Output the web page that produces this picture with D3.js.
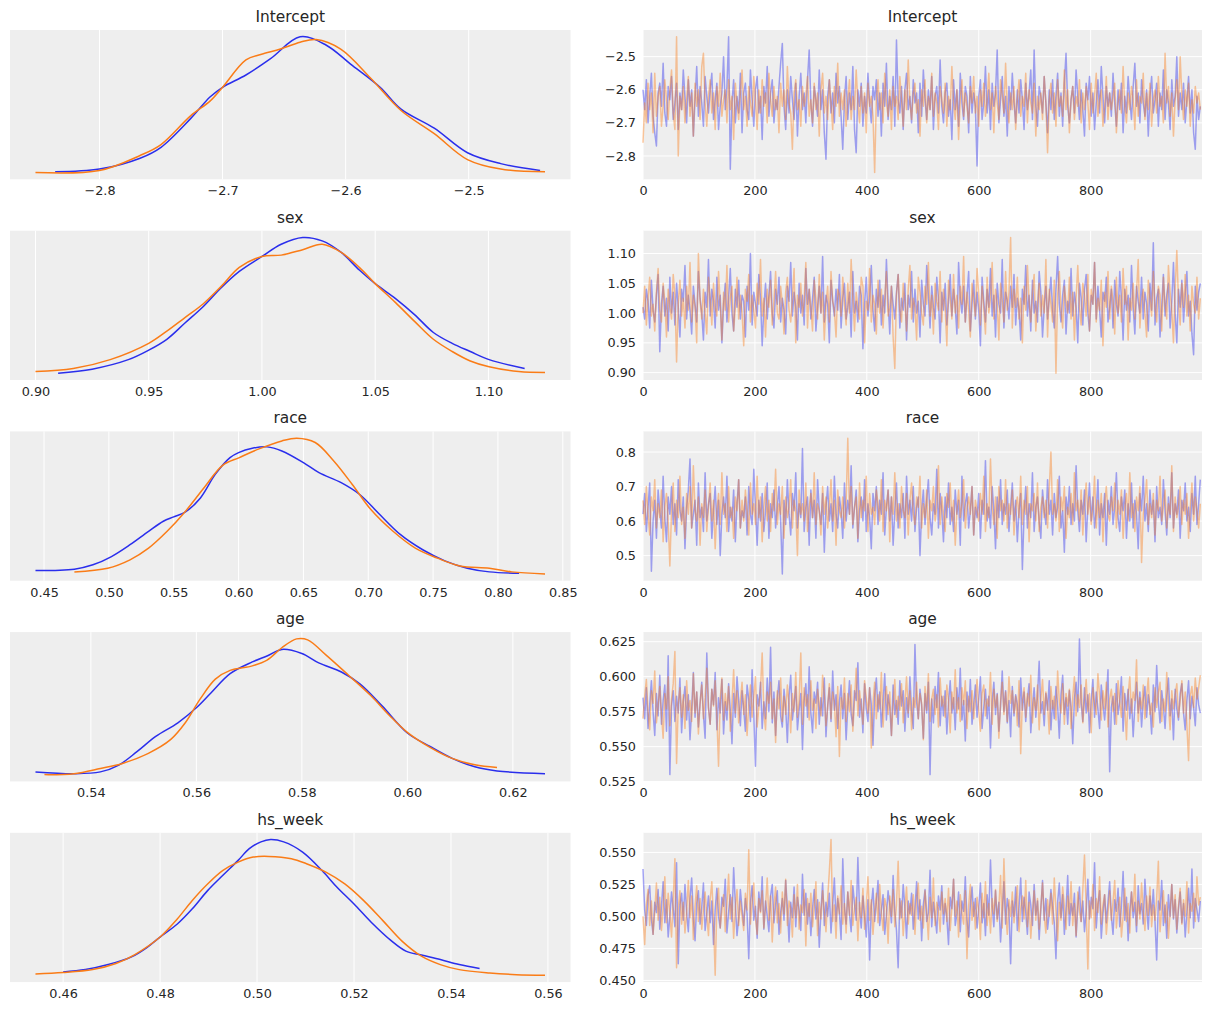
<!DOCTYPE html>
<html><head><meta charset="utf-8">
<script src="https://cdn.jsdelivr.net/npm/d3@7"></script>
<style>body{margin:0;background:#fff}svg{display:block}text{font-family:"DejaVu Sans",sans-serif;fill:#262626}</style>
</head><body>
<script>
// ---------- data ----------
const params = ["Intercept", "sex", "race", "age", "hs_week"];
const chainColors = ["#2a2eec", "#fa7c17"];

// KDE curves: [value, relative density]
const kdeInterceptA = [[-2.836,0.01],[-2.800,0.03],[-2.767,0.11],[-2.750,0.19],[-2.726,0.40],[-2.710,0.56],[-2.700,0.63],[-2.681,0.72],[-2.661,0.84],[-2.637,1.00],[-2.616,0.94],[-2.596,0.80],[-2.572,0.63],[-2.555,0.47],[-2.528,0.33],[-2.501,0.15],[-2.474,0.07],[-2.442,0.02]];
const kdeInterceptB = [[-2.852,0.005],[-2.800,0.02],[-2.767,0.13],[-2.750,0.21],[-2.726,0.42],[-2.710,0.53],[-2.700,0.63],[-2.681,0.83],[-2.669,0.87],[-2.653,0.91],[-2.637,0.96],[-2.624,0.98],[-2.604,0.91],[-2.580,0.70],[-2.555,0.46],[-2.528,0.29],[-2.501,0.10],[-2.474,0.03],[-2.438,0.01]];
const kdeSexA = [[0.910,0.0],[0.925,0.03],[0.941,0.10],[0.950,0.17],[0.958,0.25],[0.966,0.37],[0.974,0.49],[0.982,0.63],[0.990,0.75],[1.000,0.86],[1.0085,0.95],[1.018,1.0],[1.0266,0.975],[1.035,0.89],[1.043,0.76],[1.050,0.66],[1.059,0.55],[1.0675,0.43],[1.0757,0.30],[1.084,0.22],[1.092,0.16],[1.1003,0.10],[1.116,0.035]];
const kdeSexB = [[0.900,0.012],[0.9167,0.035],[0.933,0.10],[0.950,0.22],[0.958,0.31],[0.966,0.41],[0.974,0.51],[0.982,0.64],[0.990,0.78],[1.000,0.86],[1.0085,0.87],[1.018,0.91],[1.0266,0.95],[1.035,0.89],[1.043,0.78],[1.050,0.66],[1.059,0.52],[1.0675,0.38],[1.0757,0.25],[1.084,0.16],[1.092,0.09],[1.1003,0.047],[1.1134,0.012],[1.125,0.005]];
const kdeRaceA = [[0.4434,0.025],[0.4734,0.035],[0.4877,0.067],[0.502,0.128],[0.5163,0.215],[0.5306,0.314],[0.542,0.388],[0.55,0.42],[0.5591,0.457],[0.5706,0.56],[0.582,0.733],[0.5934,0.857],[0.60,0.894],[0.6106,0.926],[0.622,0.936],[0.6334,0.906],[0.65,0.82],[0.662,0.746],[0.6791,0.672],[0.6934,0.585],[0.7077,0.449],[0.7249,0.289],[0.742,0.178],[0.7591,0.096],[0.7763,0.042],[0.7934,0.015],[0.8163,0.005]];
const kdeRaceB = [[0.4734,0.015],[0.4991,0.042],[0.5163,0.104],[0.5306,0.19],[0.5449,0.314],[0.5591,0.462],[0.5734,0.635],[0.5877,0.80],[0.6006,0.857],[0.6163,0.923],[0.6334,0.98],[0.6449,1.0],[0.6591,0.968],[0.6734,0.832],[0.6877,0.659],[0.702,0.474],[0.7191,0.314],[0.7363,0.19],[0.7534,0.116],[0.7706,0.059],[0.7934,0.042],[0.8106,0.015],[0.8363,0.0]];
const kdeAgeA = [[0.5295,0.02],[0.5368,0.007],[0.5418,0.02],[0.5453,0.07],[0.5488,0.17],[0.5523,0.28],[0.5565,0.38],[0.56,0.49],[0.5628,0.60],[0.5664,0.74],[0.5706,0.826],[0.5734,0.87],[0.5762,0.918],[0.58,0.888],[0.5832,0.819],[0.5875,0.752],[0.591,0.665],[0.5952,0.504],[0.60,0.305],[0.6043,0.206],[0.6085,0.119],[0.6128,0.057],[0.617,0.027],[0.6261,0.007]];
const kdeAgeB = [[0.5312,0.0],[0.5368,0.007],[0.5418,0.045],[0.546,0.082],[0.5509,0.156],[0.5551,0.256],[0.5579,0.38],[0.5607,0.553],[0.5636,0.70],[0.5664,0.764],[0.5706,0.797],[0.5734,0.839],[0.5762,0.93],[0.579,0.995],[0.5811,0.988],[0.5846,0.876],[0.5889,0.727],[0.5931,0.578],[0.5966,0.434],[0.60,0.31],[0.6043,0.20],[0.6085,0.119],[0.6128,0.072],[0.617,0.052]];
const kdeHsWeekA = [[0.46,0.025],[0.4646,0.042],[0.4693,0.079],[0.474,0.134],[0.4772,0.203],[0.48,0.282],[0.4835,0.376],[0.4866,0.488],[0.4898,0.624],[0.4929,0.735],[0.4961,0.847],[0.4984,0.933],[0.5008,0.983],[0.5028,1.0],[0.5055,0.983],[0.5094,0.908],[0.5134,0.772],[0.5165,0.649],[0.52,0.525],[0.5236,0.389],[0.5276,0.257],[0.5307,0.178],[0.5339,0.149],[0.5378,0.116],[0.5417,0.079],[0.5459,0.05]];
const kdeHsWeekB = [[0.4543,0.01],[0.46,0.02],[0.4661,0.042],[0.4709,0.087],[0.4748,0.153],[0.48,0.282],[0.4835,0.413],[0.4866,0.55],[0.4898,0.673],[0.4929,0.772],[0.4961,0.834],[0.4992,0.871],[0.5024,0.876],[0.5071,0.859],[0.5102,0.822],[0.5142,0.76],[0.5181,0.673],[0.522,0.55],[0.526,0.401],[0.5299,0.252],[0.5339,0.141],[0.5378,0.079],[0.5417,0.042],[0.548,0.017],[0.5535,0.005],[0.5594,0.0]];

// Trace values (every 3rd draw, draws 0..996)
const traceInterceptA = [-2.60,-2.66,-2.57,-2.70,-2.62,-2.55,-2.68,-2.73,-2.77,-2.61,-2.58,-2.65,-2.52,-2.67,-2.71,-2.59,-2.63,-2.56,-2.69,-2.64,
-2.58,-2.72,-2.61,-2.66,-2.54,-2.62,-2.70,-2.57,-2.65,-2.60,-2.74,-2.63,-2.53,-2.68,-2.59,-2.64,-2.71,-2.56,-2.62,-2.67,
-2.60,-2.55,-2.69,-2.63,-2.58,-2.72,-2.65,-2.61,-2.50,-2.66,-2.59,-2.44,-2.84,-2.64,-2.57,-2.70,-2.62,-2.67,-2.55,-2.73,
-2.61,-2.58,-2.66,-2.69,-2.54,-2.63,-2.71,-2.60,-2.56,-2.67,-2.62,-2.75,-2.59,-2.64,-2.53,-2.68,-2.61,-2.57,-2.70,-2.63,
-2.66,-2.59,-2.52,-2.46,-2.65,-2.72,-2.60,-2.67,-2.56,-2.63,-2.69,-2.58,-2.74,-2.62,-2.55,-2.66,-2.61,-2.70,-2.57,-2.48,
-2.64,-2.71,-2.59,-2.63,-2.68,-2.54,-2.66,-2.60,-2.73,-2.81,-2.62,-2.57,-2.67,-2.61,-2.70,-2.55,-2.64,-2.59,-2.68,-2.78,
-2.63,-2.56,-2.69,-2.61,-2.66,-2.53,-2.72,-2.79,-2.60,-2.65,-2.58,-2.71,-2.62,-2.67,-2.55,-2.64,-2.70,-2.59,-2.63,-2.57,
-2.68,-2.61,-2.74,-2.58,-2.65,-2.52,-2.69,-2.62,-2.66,-2.56,-2.71,-2.45,-2.63,-2.67,-2.59,-2.72,-2.60,-2.55,-2.66,-2.62,
-2.70,-2.57,-2.64,-2.61,-2.73,-2.58,-2.68,-2.54,-2.63,-2.69,-2.60,-2.66,-2.56,-2.72,-2.62,-2.59,-2.67,-2.51,-2.65,-2.70,
-2.61,-2.58,-2.68,-2.63,-2.75,-2.57,-2.66,-2.60,-2.71,-2.55,-2.64,-2.69,-2.59,-2.62,-2.73,-2.56,-2.67,-2.61,-2.65,-2.83,
-2.62,-2.57,-2.69,-2.64,-2.53,-2.67,-2.60,-2.72,-2.58,-2.65,-2.61,-2.48,-2.70,-2.63,-2.56,-2.68,-2.62,-2.74,-2.59,-2.66,
-2.55,-2.64,-2.70,-2.60,-2.67,-2.57,-2.63,-2.72,-2.58,-2.66,-2.61,-2.54,-2.69,-2.48,-2.65,-2.71,-2.59,-2.62,-2.67,-2.56,
-2.64,-2.73,-2.60,-2.66,-2.57,-2.69,-2.62,-2.55,-2.68,-2.61,-2.71,-2.58,-2.49,-2.65,-2.70,-2.63,-2.59,-2.67,-2.54,-2.62,
-2.69,-2.60,-2.66,-2.74,-2.58,-2.63,-2.56,-2.68,-2.61,-2.72,-2.64,-2.57,-2.67,-2.53,-2.62,-2.70,-2.59,-2.65,-2.61,-2.68,
-2.55,-2.64,-2.71,-2.60,-2.66,-2.58,-2.73,-2.62,-2.67,-2.56,-2.63,-2.69,-2.59,-2.52,-2.65,-2.61,-2.70,-2.57,-2.64,-2.68,
-2.60,-2.74,-2.62,-2.56,-2.67,-2.63,-2.58,-2.71,-2.61,-2.66,-2.54,-2.69,-2.60,-2.64,-2.72,-2.57,-2.65,-2.62,-2.50,-2.68,
-2.61,-2.66,-2.58,-2.70,-2.63,-2.56,-2.67,-2.60,-2.73,-2.78,-2.62,-2.69,-2.65];
const traceInterceptB = [-2.76,-2.64,-2.70,-2.58,-2.66,-2.61,-2.73,-2.55,-2.68,-2.62,-2.59,-2.71,-2.65,-2.57,-2.63,-2.69,-2.60,-2.54,-2.67,-2.72,
-2.44,-2.80,-2.62,-2.66,-2.59,-2.70,-2.63,-2.56,-2.68,-2.61,-2.74,-2.58,-2.65,-2.60,-2.69,-2.53,-2.49,-2.64,-2.71,-2.62,
-2.57,-2.67,-2.61,-2.72,-2.59,-2.65,-2.55,-2.68,-2.63,-2.60,-2.70,-2.57,-2.66,-2.62,-2.75,-2.58,-2.64,-2.69,-2.61,-2.54,
-2.66,-2.62,-2.71,-2.59,-2.64,-2.68,-2.56,-2.63,-2.72,-2.60,-2.67,-2.57,-2.65,-2.61,-2.70,-2.55,-2.63,-2.68,-2.59,-2.66,
-2.62,-2.73,-2.58,-2.65,-2.60,-2.69,-2.53,-2.64,-2.67,-2.78,-2.61,-2.57,-2.66,-2.63,-2.71,-2.59,-2.65,-2.62,-2.56,-2.68,
-2.63,-2.70,-2.58,-2.66,-2.61,-2.74,-2.60,-2.55,-2.67,-2.62,-2.69,-2.57,-2.64,-2.72,-2.59,-2.65,-2.52,-2.68,-2.61,-2.66,
-2.60,-2.71,-2.63,-2.57,-2.69,-2.62,-2.66,-2.54,-2.64,-2.70,-2.59,-2.67,-2.61,-2.73,-2.58,-2.65,-2.62,-2.68,-2.85,-2.63,
-2.57,-2.66,-2.61,-2.70,-2.55,-2.64,-2.68,-2.60,-2.72,-2.59,-2.65,-2.62,-2.69,-2.56,-2.63,-2.71,-2.60,-2.66,-2.51,-2.64,
-2.69,-2.61,-2.58,-2.67,-2.63,-2.74,-2.60,-2.65,-2.57,-2.70,-2.62,-2.66,-2.55,-2.68,-2.61,-2.64,-2.72,-2.59,-2.63,-2.67,
-2.58,-2.71,-2.62,-2.66,-2.53,-2.64,-2.69,-2.60,-2.75,-2.63,-2.57,-2.68,-2.61,-2.65,-2.70,-2.59,-2.64,-2.56,-2.67,-2.62,
-2.71,-2.60,-2.65,-2.58,-2.68,-2.63,-2.55,-2.66,-2.61,-2.73,-2.59,-2.64,-2.69,-2.57,-2.62,-2.67,-2.52,-2.65,-2.70,-2.61,
-2.66,-2.59,-2.72,-2.63,-2.57,-2.68,-2.62,-2.65,-2.55,-2.70,-2.60,-2.64,-2.67,-2.58,-2.74,-2.62,-2.66,-2.61,-2.69,-2.56,
-2.64,-2.79,-2.63,-2.58,-2.67,-2.61,-2.71,-2.57,-2.65,-2.62,-2.68,-2.54,-2.66,-2.60,-2.73,-2.63,-2.59,-2.69,-2.62,-2.65,
-2.57,-2.70,-2.61,-2.66,-2.59,-2.64,-2.72,-2.58,-2.67,-2.62,-2.55,-2.68,-2.63,-2.60,-2.71,-2.65,-2.56,-2.69,-2.61,-2.66,
-2.62,-2.58,-2.73,-2.64,-2.60,-2.67,-2.53,-2.65,-2.70,-2.61,-2.66,-2.59,-2.63,-2.72,-2.57,-2.68,-2.62,-2.64,-2.55,-2.69,
-2.61,-2.66,-2.58,-2.71,-2.63,-2.60,-2.67,-2.56,-2.65,-2.62,-2.70,-2.49,-2.64,-2.59,-2.68,-2.61,-2.74,-2.63,-2.57,-2.66,
-2.50,-2.62,-2.69,-2.60,-2.65,-2.58,-2.71,-2.63,-2.67,-2.59,-2.64,-2.61,-2.66];
const traceSexA = [1.010,0.990,1.040,1.020,0.975,1.055,1.005,0.985,1.030,1.065,0.935,1.015,1.045,0.995,1.025,0.970,1.060,1.000,1.035,0.980,
1.050,1.010,0.960,1.040,1.020,1.080,0.990,1.030,1.005,0.965,1.045,1.015,0.985,1.070,1.025,1.000,0.955,1.035,1.010,1.090,
0.995,1.040,1.020,0.975,1.060,1.005,1.030,0.950,1.015,1.050,0.985,1.025,1.075,1.000,0.970,1.040,1.010,1.055,0.990,1.030,
1.020,0.960,1.045,1.005,1.100,0.980,1.035,1.015,0.995,1.065,1.025,0.945,1.010,1.050,0.990,1.030,1.070,1.000,0.975,1.040,
1.015,1.060,0.985,1.025,1.005,0.965,1.045,1.020,1.085,0.995,1.035,1.010,0.955,1.050,1.000,1.030,0.980,1.075,1.015,1.040,
0.990,1.025,1.060,0.970,1.010,1.045,1.000,1.095,0.985,1.030,1.015,0.950,1.055,1.020,0.995,1.040,1.005,1.065,0.975,1.025,
1.050,0.990,1.010,1.035,0.960,1.070,1.000,1.020,0.985,1.045,1.030,0.940,1.015,1.060,0.995,1.025,1.080,1.005,0.970,1.040,
1.010,1.055,0.980,1.030,1.000,1.090,1.020,0.965,1.045,1.015,0.990,1.035,1.065,0.975,1.025,1.005,1.050,0.955,1.030,1.010,
1.070,0.985,1.040,1.000,1.020,0.960,1.055,1.015,0.995,1.080,1.030,0.975,1.045,1.010,0.990,1.060,1.025,0.950,1.035,1.005,
1.050,0.980,1.020,1.065,0.995,1.040,1.010,0.965,1.085,1.025,1.000,1.045,0.985,1.030,1.070,0.970,1.015,1.055,0.990,1.035,
1.005,0.945,1.060,1.020,0.985,1.040,1.010,1.075,0.995,1.030,0.960,1.050,1.015,1.000,1.090,0.975,1.035,1.020,0.990,1.045,
1.010,1.065,0.980,1.025,1.005,0.955,1.040,1.015,1.080,0.995,1.030,0.970,1.055,1.000,1.020,0.985,1.070,1.035,0.960,1.010,
1.045,0.990,1.025,1.060,1.005,0.975,1.040,1.095,1.015,0.985,1.030,1.055,0.965,1.020,1.000,1.075,0.995,1.035,1.010,0.950,
1.050,1.025,0.980,1.040,1.065,1.000,0.970,1.030,1.015,1.085,0.990,1.045,1.005,0.960,1.035,1.020,1.060,0.985,1.010,1.040,
0.975,1.055,1.015,0.995,1.070,1.025,0.955,1.040,1.005,1.030,0.985,1.080,1.010,0.965,1.045,1.020,1.000,1.060,0.990,1.035,
1.015,0.970,1.050,1.005,1.118,0.980,1.025,1.040,0.960,1.010,1.065,0.995,1.030,1.050,0.975,1.020,1.085,1.000,0.950,1.040,
1.010,1.055,0.985,1.030,1.070,0.995,1.020,0.965,0.930,1.045,1.005,1.035,1.050];
const traceSexB = [1.000,1.045,0.980,1.025,1.060,0.995,1.015,0.970,1.035,1.075,1.005,0.985,1.050,1.020,0.960,1.040,1.010,0.990,1.065,1.030,
0.918,1.015,1.055,0.995,1.025,0.975,1.045,1.005,1.085,0.985,1.030,1.010,0.950,1.100,1.020,0.990,1.040,1.000,0.965,1.060,
1.025,0.980,1.050,1.010,0.995,1.070,1.015,0.955,1.035,1.005,1.080,0.985,1.025,1.045,0.970,1.010,1.060,0.990,1.030,1.000,
0.945,1.040,1.020,1.065,0.985,1.030,1.005,0.975,1.050,1.015,1.090,0.995,1.025,0.960,1.040,1.010,1.055,0.980,1.020,1.070,
1.000,0.990,1.045,1.015,0.965,1.035,1.060,1.005,0.985,1.025,1.075,0.950,1.030,1.010,1.050,0.995,1.020,1.085,0.975,1.040,
1.010,0.970,1.055,1.025,0.990,1.065,1.000,1.035,0.955,1.015,1.045,0.985,1.070,1.020,1.005,0.960,1.040,1.030,0.995,1.060,
1.015,0.980,1.050,1.000,1.090,1.025,0.970,1.035,1.010,0.990,1.060,1.045,0.950,1.020,1.005,1.075,0.985,1.030,1.015,0.965,
1.055,1.000,1.040,0.975,1.025,1.070,0.995,1.010,1.045,0.960,0.907,1.030,1.065,1.005,0.985,1.050,1.020,0.970,1.040,1.080,
0.990,1.025,1.010,0.955,1.060,1.035,1.000,0.980,1.045,1.015,1.085,0.995,1.030,0.965,1.050,1.020,1.005,1.070,0.985,1.040,
1.010,0.945,1.055,1.025,0.990,1.065,1.000,1.030,0.975,1.045,1.015,1.095,0.985,1.035,1.005,0.960,1.050,1.020,0.995,1.075,
1.030,0.980,1.045,1.010,0.965,1.060,1.000,1.025,1.085,0.990,1.040,1.015,0.955,1.050,1.020,0.985,1.070,1.005,1.035,1.127,
0.975,1.040,1.010,1.060,0.990,1.025,0.950,1.045,1.005,1.080,1.020,0.985,1.035,1.065,0.970,1.015,1.050,0.995,1.030,1.000,
1.090,0.960,1.040,1.015,0.985,1.055,0.899,1.030,1.070,1.005,0.975,1.045,1.020,1.000,1.060,0.990,1.035,0.955,1.025,1.080,
1.010,0.980,1.050,1.030,0.995,1.065,0.970,1.040,1.015,1.085,0.985,1.025,1.005,1.055,0.945,1.035,1.010,1.070,0.990,1.045,
1.020,0.965,1.060,1.000,1.030,0.985,1.075,1.015,1.045,0.955,1.025,1.005,1.050,0.990,1.035,1.090,0.975,1.020,1.040,1.000,
0.960,1.055,1.025,0.995,1.070,1.010,0.985,1.045,1.030,0.970,1.060,1.015,0.990,1.080,1.035,1.005,0.950,1.040,1.105,1.020,
0.980,1.050,1.010,1.065,0.995,1.030,0.970,1.045,1.015,1.000,1.060,0.990,1.025];
const traceRaceA = [0.62,0.68,0.57,0.64,0.71,0.455,0.60,0.66,0.55,0.69,0.63,0.58,0.73,0.61,0.54,0.67,0.62,0.70,0.59,0.65,
0.56,0.72,0.63,0.60,0.67,0.52,0.64,0.69,0.78,0.58,0.62,0.66,0.53,0.71,0.61,0.64,0.57,0.74,0.60,0.65,
0.68,0.55,0.63,0.70,0.59,0.66,0.50,0.62,0.67,0.61,0.73,0.57,0.64,0.60,0.69,0.54,0.65,0.72,0.58,0.63,
0.61,0.67,0.56,0.70,0.62,0.59,0.75,0.64,0.53,0.66,0.60,0.68,0.57,0.63,0.71,0.55,0.65,0.61,0.69,0.58,
0.64,0.70,0.60,0.447,0.66,0.59,0.72,0.62,0.56,0.68,0.63,0.74,0.58,0.65,0.61,0.81,0.57,0.64,0.67,0.53,
0.69,0.61,0.66,0.55,0.72,0.63,0.59,0.68,0.51,0.64,0.70,0.60,0.65,0.57,0.73,0.62,0.58,0.67,0.63,0.55,
0.71,0.60,0.66,0.62,0.76,0.58,0.64,0.69,0.54,0.63,0.67,0.60,0.72,0.57,0.65,0.61,0.52,0.68,0.63,0.70,
0.59,0.66,0.62,0.74,0.56,0.64,0.69,0.60,0.67,0.53,0.63,0.71,0.58,0.65,0.61,0.68,0.55,0.73,0.62,0.66,
0.60,0.70,0.57,0.64,0.67,0.50,0.63,0.69,0.59,0.66,0.72,0.61,0.56,0.65,0.62,0.75,0.58,0.68,0.63,0.54,
0.67,0.61,0.71,0.59,0.64,0.57,0.69,0.62,0.66,0.53,0.73,0.60,0.65,0.68,0.58,0.63,0.70,0.56,0.64,0.61,
0.68,0.55,0.66,0.62,0.775,0.60,0.64,0.58,0.70,0.63,0.52,0.67,0.61,0.72,0.59,0.65,0.62,0.69,0.57,0.64,
0.71,0.60,0.66,0.54,0.63,0.68,0.46,0.62,0.70,0.58,0.65,0.61,0.74,0.57,0.64,0.67,0.60,0.55,0.69,0.63,
0.59,0.72,0.62,0.66,0.56,0.68,0.61,0.64,0.73,0.58,0.63,0.51,0.67,0.62,0.70,0.59,0.65,0.60,0.76,0.63,
0.57,0.66,0.62,0.69,0.54,0.64,0.71,0.60,0.67,0.58,0.63,0.72,0.56,0.65,0.61,0.68,0.53,0.66,0.62,0.70,
0.59,0.64,0.74,0.61,0.57,0.67,0.63,0.69,0.55,0.65,0.60,0.71,0.58,0.66,0.62,0.52,0.68,0.63,0.73,0.60,
0.65,0.57,0.69,0.62,0.66,0.54,0.70,0.61,0.64,0.59,0.72,0.63,0.56,0.67,0.61,0.74,0.58,0.65,0.62,0.69,
0.55,0.66,0.63,0.71,0.60,0.64,0.57,0.68,0.62,0.73,0.59,0.65,0.72];
const traceRaceB = [0.66,0.59,0.70,0.62,0.56,0.67,0.63,0.72,0.58,0.65,0.61,0.69,0.54,0.64,0.68,0.60,0.47,0.63,0.71,0.57,
0.66,0.61,0.73,0.59,0.64,0.55,0.68,0.62,0.70,0.58,0.76,0.63,0.60,0.67,0.53,0.65,0.61,0.69,0.57,0.64,
0.71,0.60,0.66,0.52,0.63,0.68,0.59,0.74,0.62,0.65,0.57,0.70,0.61,0.64,0.55,0.67,0.63,0.72,0.58,0.66,
0.60,0.69,0.63,0.56,0.71,0.62,0.65,0.59,0.73,0.61,0.67,0.54,0.64,0.70,0.60,0.66,0.57,0.68,0.63,0.75,
0.59,0.65,0.62,0.70,0.55,0.67,0.61,0.64,0.72,0.58,0.66,0.63,0.50,0.69,0.62,0.65,0.60,0.71,0.57,0.64,
0.68,0.61,0.74,0.59,0.65,0.63,0.56,0.70,0.62,0.67,0.58,0.64,0.72,0.60,0.66,0.53,0.69,0.63,0.61,0.67,
0.58,0.65,0.84,0.62,0.70,0.59,0.64,0.67,0.55,0.71,0.61,0.66,0.63,0.73,0.57,0.68,0.62,0.64,0.59,0.69,
0.65,0.60,0.72,0.57,0.66,0.63,0.69,0.54,0.67,0.62,0.74,0.60,0.65,0.58,0.70,0.63,0.61,0.68,0.56,0.66,
0.71,0.62,0.59,0.67,0.64,0.73,0.58,0.65,0.61,0.69,0.55,0.66,0.63,0.70,0.60,0.64,0.76,0.59,0.67,0.62,
0.57,0.68,0.64,0.71,0.60,0.66,0.53,0.63,0.69,0.61,0.65,0.72,0.58,0.64,0.67,0.62,0.70,0.56,0.66,0.63,
0.60,0.68,0.62,0.73,0.57,0.65,0.61,0.78,0.64,0.59,0.67,0.55,0.70,0.63,0.66,0.60,0.72,0.58,0.65,0.62,
0.69,0.56,0.64,0.67,0.61,0.73,0.59,0.66,0.62,0.70,0.54,0.65,0.63,0.68,0.60,0.71,0.57,0.64,0.67,0.61,
0.66,0.58,0.69,0.80,0.62,0.65,0.60,0.72,0.57,0.67,0.63,0.70,0.55,0.64,0.61,0.68,0.59,0.74,0.63,0.66,
0.60,0.69,0.56,0.65,0.71,0.62,0.67,0.59,0.64,0.73,0.58,0.66,0.61,0.68,0.54,0.65,0.70,0.62,0.60,0.67,
0.63,0.71,0.58,0.66,0.62,0.69,0.55,0.64,0.68,0.60,0.74,0.61,0.65,0.57,0.67,0.63,0.70,0.48,0.62,0.66,
0.72,0.59,0.65,0.61,0.68,0.56,0.66,0.63,0.73,0.60,0.64,0.69,0.58,0.65,0.62,0.76,0.57,0.67,0.61,0.64,
0.70,0.59,0.66,0.62,0.68,0.55,0.64,0.71,0.60,0.67,0.63,0.58,0.65];
const traceAgeA = [0.585,0.570,0.592,0.563,0.580,0.597,0.575,0.558,0.588,0.572,0.601,0.566,0.583,0.594,0.561,0.615,0.530,0.579,0.590,0.568,
0.586,0.574,0.599,0.560,0.582,0.593,0.569,0.587,0.555,0.577,0.603,0.571,0.589,0.564,0.581,0.596,0.573,0.556,0.617,0.578,
0.566,0.591,0.580,0.603,0.562,0.585,0.574,0.598,0.559,0.582,0.569,0.595,0.576,0.552,0.588,0.571,0.600,0.583,0.565,0.590,
0.577,0.561,0.594,0.584,0.568,0.605,0.573,0.536,0.587,0.579,0.596,0.563,0.582,0.570,0.599,0.575,0.621,0.567,0.589,0.558,
0.584,0.597,0.572,0.564,0.591,0.578,0.553,0.586,0.601,0.569,0.580,0.593,0.562,0.576,0.588,0.548,0.583,0.595,0.571,0.607,
0.574,0.560,0.589,0.581,0.596,0.566,0.585,0.572,0.599,0.557,0.579,0.592,0.568,0.604,0.576,0.587,0.563,0.582,0.594,0.570,
0.588,0.555,0.578,0.597,0.573,0.565,0.590,0.583,0.610,0.571,0.584,0.560,0.595,0.577,0.568,0.592,0.580,0.551,0.586,0.599,
0.575,0.589,0.564,0.581,0.602,0.569,0.587,0.578,0.558,0.594,0.573,0.583,0.566,0.597,0.579,0.590,0.561,0.585,0.571,0.600,
0.576,0.563,0.623,0.582,0.570,0.591,0.579,0.556,0.588,0.574,0.596,0.530,0.584,0.567,0.593,0.578,0.603,0.565,0.586,0.572,
0.590,0.559,0.581,0.597,0.574,0.585,0.562,0.592,0.577,0.606,0.569,0.583,0.554,0.589,0.575,0.598,0.566,0.580,0.594,0.571,
0.584,0.600,0.563,0.578,0.591,0.570,0.586,0.549,0.582,0.596,0.573,0.588,0.561,0.579,0.604,0.575,0.590,0.567,0.583,0.557,
0.593,0.572,0.587,0.580,0.564,0.599,0.576,0.589,0.568,0.584,0.595,0.560,0.578,0.592,0.571,0.586,0.611,0.574,0.582,0.565,
0.588,0.576,0.597,0.562,0.583,0.570,0.593,0.579,0.556,0.587,0.601,0.573,0.585,0.566,0.590,0.578,0.552,0.584,0.596,0.575,
0.627,0.581,0.568,0.592,0.574,0.587,0.560,0.583,0.598,0.571,0.589,0.577,0.563,0.594,0.580,0.569,0.585,0.605,0.532,0.578,
0.586,0.566,0.595,0.573,0.582,0.600,0.561,0.588,0.576,0.591,0.570,0.584,0.557,0.579,0.596,0.574,0.589,0.564,0.583,0.593,
0.571,0.587,0.578,0.559,0.594,0.575,0.608,0.582,0.567,0.590,0.579,0.563,0.586,0.599,0.572,0.584,0.555,0.591,0.577,0.569,
0.588,0.595,0.574,0.562,0.583,0.597,0.570,0.586,0.578,0.565,0.592,0.580,0.574];
const traceAgeB = [0.570,0.586,0.598,0.575,0.562,0.590,0.581,0.604,0.567,0.579,0.593,0.573,0.556,0.588,0.577,0.600,0.565,0.584,0.595,0.618,
0.538,0.580,0.592,0.571,0.587,0.563,0.597,0.576,0.583,0.568,0.602,0.574,0.589,0.559,0.581,0.594,0.570,0.585,0.606,0.578,
0.566,0.591,0.579,0.597,0.572,0.536,0.584,0.599,0.569,0.588,0.576,0.593,0.561,0.582,0.605,0.574,0.590,0.567,0.583,0.596,
0.573,0.587,0.558,0.580,0.594,0.571,0.585,0.600,0.564,0.578,0.591,0.617,0.575,0.562,0.589,0.581,0.596,0.570,0.584,0.553,
0.590,0.577,0.599,0.568,0.586,0.573,0.594,0.581,0.560,0.588,0.575,0.603,0.571,0.583,0.617,0.566,0.592,0.579,0.587,0.569,
0.597,0.576,0.584,0.563,0.591,0.580,0.572,0.601,0.587,0.565,0.578,0.595,0.570,0.589,0.582,0.557,0.593,0.543,0.585,0.577,
0.599,0.568,0.588,0.575,0.594,0.561,0.583,0.606,0.572,0.590,0.579,0.566,0.597,0.585,0.574,0.592,0.549,0.581,0.596,0.570,
0.587,0.577,0.603,0.564,0.584,0.593,0.573,0.589,0.558,0.580,0.598,0.571,0.586,0.576,0.595,0.567,0.582,0.600,0.574,0.590,
0.562,0.585,0.578,0.596,0.570,0.588,0.581,0.555,0.593,0.576,0.602,0.568,0.584,0.591,0.573,0.587,0.564,0.599,0.579,0.586,
0.571,0.594,0.583,0.560,0.589,0.577,0.605,0.574,0.585,0.568,0.592,0.580,0.597,0.563,0.586,0.575,0.590,0.570,0.583,0.598,
0.576,0.561,0.588,0.594,0.572,0.584,0.579,0.603,0.566,0.591,0.578,0.587,0.556,0.582,0.596,0.573,0.589,0.568,0.600,0.581,
0.590,0.574,0.586,0.565,0.597,0.545,0.583,0.592,0.571,0.588,0.579,0.601,0.567,0.585,0.576,0.594,0.562,0.584,0.598,0.573,
0.589,0.580,0.559,0.593,0.577,0.586,0.569,0.604,0.582,0.574,0.595,0.566,0.588,0.579,0.591,0.563,0.585,0.600,0.572,0.587,
0.578,0.594,0.567,0.583,0.598,0.575,0.588,0.560,0.592,0.581,0.573,0.602,0.586,0.569,0.590,0.577,0.596,0.564,0.584,0.591,
0.575,0.588,0.566,0.597,0.582,0.571,0.593,0.579,0.555,0.587,0.600,0.574,0.589,0.583,0.612,0.568,0.585,0.577,0.594,0.570,
0.586,0.599,0.573,0.581,0.564,0.592,0.578,0.589,0.596,0.568,0.584,0.575,0.603,0.580,0.562,0.590,0.577,0.587,0.595,0.571,
0.583,0.597,0.574,0.589,0.565,0.540,0.586,0.593,0.578,0.599,0.584,0.592,0.601];
const traceHsWeekA = [0.537,0.505,0.493,0.516,0.524,0.498,0.486,0.511,0.503,0.521,0.490,0.508,0.527,0.495,0.513,0.484,0.500,0.519,0.506,0.492,
0.542,0.463,0.509,0.518,0.497,0.525,0.503,0.488,0.514,0.530,0.499,0.481,0.510,0.520,0.494,0.507,0.526,0.489,0.502,0.516,
0.495,0.512,0.478,0.505,0.522,0.500,0.491,0.515,0.508,0.529,0.487,0.503,0.517,0.496,0.538,0.510,0.485,0.499,0.521,0.506,
0.493,0.514,0.502,0.467,0.511,0.524,0.497,0.508,0.483,0.519,0.504,0.531,0.490,0.512,0.500,0.488,0.516,0.525,0.495,0.509,
0.520,0.486,0.503,0.514,0.497,0.528,0.507,0.480,0.511,0.499,0.523,0.492,0.515,0.505,0.489,0.533,0.501,0.518,0.494,0.510,
0.485,0.506,0.521,0.498,0.513,0.476,0.504,0.526,0.493,0.511,0.500,0.518,0.487,0.509,0.530,0.496,0.514,0.503,0.482,0.545,
0.507,0.494,0.519,0.502,0.488,0.524,0.510,0.497,0.546,0.505,0.491,0.516,0.500,0.484,0.513,0.466,0.508,0.522,0.496,0.511,
0.528,0.493,0.505,0.517,0.486,0.501,0.520,0.509,0.495,0.532,0.504,0.489,0.460,0.514,0.499,0.525,0.507,0.483,0.512,0.502,
0.518,0.490,0.506,0.527,0.498,0.513,0.481,0.509,0.521,0.496,0.503,0.536,0.492,0.511,0.500,0.487,0.516,0.505,0.524,0.494,
0.510,0.499,0.478,0.515,0.506,0.529,0.493,0.502,0.519,0.488,0.512,0.504,0.531,0.497,0.484,0.509,0.523,0.500,0.514,0.491,
0.506,0.526,0.495,0.510,0.485,0.517,0.501,0.544,0.508,0.492,0.520,0.498,0.511,0.480,0.503,0.527,0.494,0.514,0.505,0.463,
0.512,0.500,0.523,0.489,0.507,0.530,0.496,0.515,0.503,0.486,0.519,0.509,0.493,0.525,0.501,0.512,0.482,0.506,0.528,0.497,
0.514,0.490,0.503,0.521,0.508,0.495,0.467,0.511,0.526,0.499,0.517,0.486,0.505,0.532,0.493,0.510,0.501,0.518,0.484,0.507,
0.523,0.496,0.512,0.488,0.504,0.529,0.498,0.515,0.506,0.542,0.491,0.509,0.520,0.483,0.502,0.517,0.495,0.511,0.527,0.500,
0.486,0.513,0.504,0.522,0.492,0.508,0.535,0.497,0.515,0.481,0.505,0.519,0.499,0.511,0.488,0.524,0.502,0.510,0.494,0.529,
0.507,0.490,0.516,0.501,0.521,0.496,0.466,0.512,0.505,0.528,0.493,0.509,0.483,0.517,0.500,0.525,0.498,0.513,0.487,0.506,
0.519,0.495,0.510,0.484,0.503,0.522,0.499,0.537,0.491,0.514,0.505,0.496,0.512];
const traceHsWeekB = [0.500,0.478,0.509,0.521,0.493,0.512,0.486,0.504,0.526,0.497,0.515,0.489,0.507,0.531,0.495,0.518,0.502,0.484,0.513,0.545,
0.460,0.506,0.520,0.494,0.511,0.487,0.503,0.528,0.499,0.516,0.482,0.508,0.524,0.496,0.514,0.490,0.505,0.519,0.501,0.485,
0.513,0.527,0.497,0.454,0.509,0.522,0.491,0.504,0.517,0.488,0.510,0.533,0.498,0.515,0.483,0.506,0.521,0.493,0.512,0.500,
0.489,0.518,0.505,0.552,0.494,0.511,0.526,0.499,0.486,0.514,0.503,0.520,0.491,0.508,0.530,0.497,0.516,0.480,0.507,0.523,
0.495,0.510,0.487,0.519,0.502,0.529,0.493,0.512,0.506,0.484,0.517,0.499,0.525,0.490,0.509,0.503,0.521,0.477,0.514,0.500,
0.518,0.492,0.507,0.527,0.485,0.511,0.498,0.520,0.505,0.488,0.514,0.535,0.560,0.496,0.509,0.483,0.516,0.502,0.524,0.494,
0.510,0.487,0.519,0.501,0.528,0.493,0.506,0.515,0.481,0.511,0.499,0.522,0.490,0.508,0.531,0.497,0.513,0.486,0.504,0.518,
0.495,0.525,0.503,0.489,0.514,0.507,0.479,0.516,0.500,0.521,0.492,0.509,0.543,0.498,0.512,0.485,0.506,0.523,0.494,0.510,
0.501,0.517,0.486,0.513,0.526,0.497,0.508,0.491,0.520,0.504,0.482,0.515,0.499,0.530,0.493,0.511,0.505,0.488,0.519,0.502,
0.514,0.496,0.522,0.489,0.507,0.529,0.500,0.512,0.484,0.517,0.503,0.494,0.520,0.467,0.508,0.525,0.497,0.511,0.490,0.515,
0.505,0.482,0.518,0.499,0.527,0.493,0.510,0.487,0.514,0.502,0.521,0.496,0.508,0.532,0.491,0.545,0.504,0.486,0.513,0.500,
0.519,0.495,0.509,0.524,0.488,0.506,0.516,0.498,0.528,0.492,0.511,0.483,0.503,0.520,0.497,0.514,0.490,0.507,0.526,0.501,
0.487,0.513,0.500,0.518,0.494,0.530,0.505,0.481,0.511,0.497,0.523,0.508,0.490,0.516,0.502,0.527,0.493,0.510,0.485,0.519,
0.504,0.496,0.521,0.548,0.507,0.459,0.512,0.499,0.525,0.489,0.514,0.503,0.531,0.494,0.509,0.517,0.486,0.502,0.520,0.497,
0.511,0.528,0.491,0.506,0.515,0.484,0.500,0.522,0.496,0.510,0.487,0.519,0.504,0.533,0.493,0.512,0.498,0.526,0.505,0.489,
0.516,0.501,0.523,0.492,0.509,0.497,0.514,0.543,0.488,0.506,0.520,0.495,0.511,0.483,0.503,0.525,0.499,0.517,0.490,0.508,
0.522,0.494,0.513,0.500,0.527,0.487,0.510,0.504,0.518,0.496,0.531,0.509,0.515];
const drawStep = 3;
const lastDraw = 999;

// tick values
const kdeTicks = [[-2.8,-2.7,-2.6,-2.5],[0.90,0.95,1.00,1.05,1.10],[0.45,0.50,0.55,0.60,0.65,0.70,0.75,0.80,0.85],[0.54,0.56,0.58,0.60,0.62],[0.46,0.48,0.50,0.52,0.54,0.56]];
const kdeTickFormats = [".1f",".2f",".2f",".2f",".2f"];
const traceYTicks = [[-2.8,-2.7,-2.6,-2.5],[0.90,0.95,1.00,1.05,1.10],[0.5,0.6,0.7,0.8],[0.525,0.550,0.575,0.600,0.625],[0.450,0.475,0.500,0.525,0.550]];
const traceYTickFormats = [".1f",".2f",".1f",".3f",".3f"];
const traceXTicks = [0,200,400,600,800];

const kdeData = [[kdeInterceptA,kdeInterceptB],[kdeSexA,kdeSexB],[kdeRaceA,kdeRaceB],[kdeAgeA,kdeAgeB],[kdeHsWeekA,kdeHsWeekB]];
const traceData = [[traceInterceptA,traceInterceptB],[traceSexA,traceSexB],[traceRaceA,traceRaceB],[traceAgeA,traceAgeB],[traceHsWeekA,traceHsWeekB]];

// ---------- layout ----------
const W = 1211, H = 1011;
const leftX0 = 10, leftX1 = 570.5, rightX0 = 643, rightX1 = 1202;
const rowTop = i => 30 + i * 200.7;
const rowH = 149.3;
const tickFont = 12.8, titleFont = 15.4;

const svg = d3.select("body").append("svg").attr("width", W).attr("height", H);

function pad(ext, f) { const r = ext[1] - ext[0]; return [ext[0] - r * f, ext[1] + r * f]; }

params.forEach((name, i) => {
  const top = rowTop(i), bottom = top + rowH;

  // ----- KDE panel -----
  const curves = kdeData[i];
  const allX = curves.flat().map(d => d[0]);
  const allY = curves.flat().map(d => d[1]);
  const x = d3.scaleLinear().domain(pad(d3.extent(allX), 0.05)).range([leftX0, leftX1]);
  const y = d3.scaleLinear().domain(pad(d3.extent(allY), 0.05)).range([bottom, top]);
  const gL = svg.append("g");
  gL.append("rect").attr("x", leftX0).attr("y", top).attr("width", leftX1 - leftX0).attr("height", rowH).attr("fill", "#eeeeee");
  const xAxisL = d3.axisBottom(x).tickValues(kdeTicks[i]).tickFormat(d3.format(kdeTickFormats[i])).tickSize(0).tickPadding(7);
  const axL = gL.append("g").attr("transform", `translate(0,${bottom})`).call(xAxisL);
  axL.select(".domain").remove();
  axL.selectAll("text").attr("font-size", tickFont).attr("font-family", "DejaVu Sans").attr("fill", "#262626");
  gL.append("g").selectAll("line").data(kdeTicks[i]).join("line")
    .attr("x1", d => x(d)).attr("x2", d => x(d)).attr("y1", top).attr("y2", bottom)
    .attr("stroke", "#ffffff").attr("stroke-width", 1);
  const lineK = d3.line().x(d => x(d[0])).y(d => y(d[1])).curve(d3.curveCatmullRom.alpha(0.5));
  curves.forEach((c, k) => {
    gL.append("path").datum(c).attr("d", lineK).attr("fill", "none")
      .attr("stroke", chainColors[k]).attr("stroke-width", 1.5);
  });
  gL.append("text").attr("x", (leftX0 + leftX1) / 2).attr("y", top - 8).attr("text-anchor", "middle")
    .attr("font-size", titleFont).text(name);

  // ----- Trace panel -----
  const tr = traceData[i];
  const tx = d3.scaleLinear().domain([0, lastDraw]).range([rightX0, rightX1]);
  const ty = d3.scaleLinear().domain(pad(d3.extent(tr.flat()), 0.05)).range([bottom, top]);
  const gR = svg.append("g");
  gR.append("rect").attr("x", rightX0).attr("y", top).attr("width", rightX1 - rightX0).attr("height", rowH).attr("fill", "#eeeeee");
  gR.append("g").selectAll("line").data(traceXTicks).join("line")
    .attr("x1", d => tx(d)).attr("x2", d => tx(d)).attr("y1", top).attr("y2", bottom)
    .attr("stroke", "#ffffff").attr("stroke-width", 1);
  gR.append("g").selectAll("line").data(traceYTicks[i]).join("line")
    .attr("x1", rightX0).attr("x2", rightX1).attr("y1", d => ty(d)).attr("y2", d => ty(d))
    .attr("stroke", "#ffffff").attr("stroke-width", 1);
  const axRx = gR.append("g").attr("transform", `translate(0,${bottom})`)
    .call(d3.axisBottom(tx).tickValues(traceXTicks).tickFormat(d3.format("d")).tickSize(0).tickPadding(7));
  axRx.select(".domain").remove();
  const axRy = gR.append("g").attr("transform", `translate(${rightX0},0)`)
    .call(d3.axisLeft(ty).tickValues(traceYTicks[i]).tickFormat(d3.format(traceYTickFormats[i])).tickSize(0).tickPadding(7));
  axRy.select(".domain").remove();
  gR.selectAll(".tick text").attr("font-size", tickFont).attr("font-family", "DejaVu Sans").attr("fill", "#262626");
  const lineT = d3.line().x((d, j) => tx(j * drawStep)).y(d => ty(d));
  tr.forEach((c, k) => {
    gR.append("path").datum(c).attr("d", lineT).attr("fill", "none")
      .attr("stroke", chainColors[k]).attr("stroke-width", 1.5).attr("stroke-opacity", 0.42)
      .attr("stroke-linejoin", "round");
  });
  gR.append("text").attr("x", (rightX0 + rightX1) / 2).attr("y", top - 8).attr("text-anchor", "middle")
    .attr("font-size", titleFont).text(name);
});
</script>
</body></html>
